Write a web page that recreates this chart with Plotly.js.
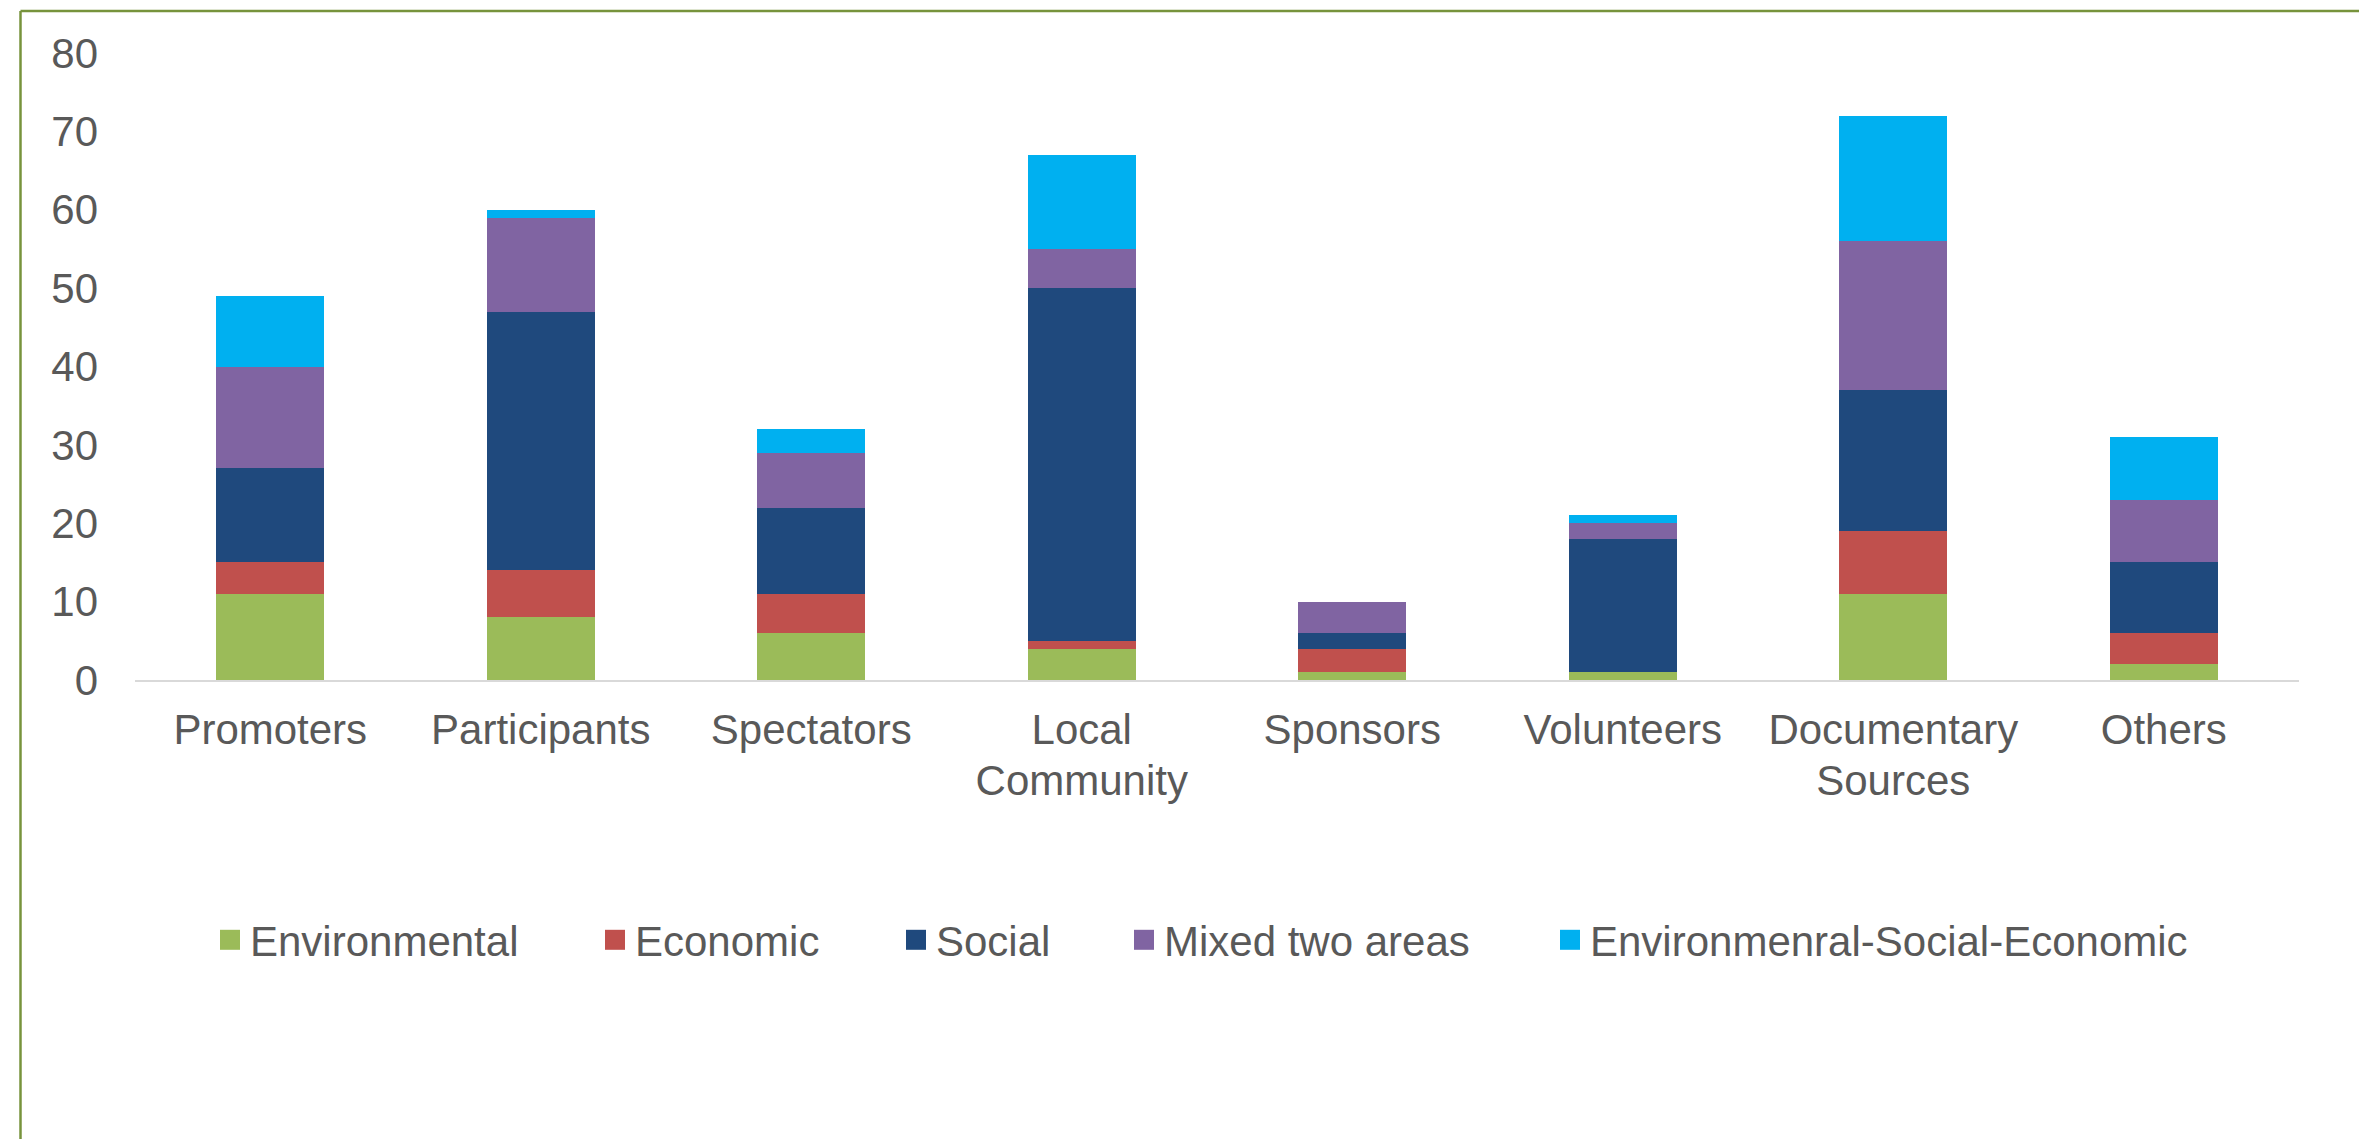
<!DOCTYPE html>
<html>
<head>
<meta charset="utf-8">
<script src="https://cdn.plot.ly/plotly-3.0.1.min.js"></script>
<style>
  html, body { margin: 0; padding: 0; background: #ffffff; }
  #chart { width: 2359px; height: 1139px; }
</style>
</head>
<body>
<div id="chart"></div>
<script>
const categories = ["Promoters", "Participants", "Spectators", "Local<br>Community", "Sponsors", "Volunteers", "Documentary<br>Sources", "Others"];
const seriesNames = ["Environmental", "Economic", "Social", "Mixed two areas", "Environmenral-Social-Economic"];
const environmental = [11, 8, 6, 4, 1, 1, 11, 2];
const economic      = [4, 6, 5, 1, 3, 0, 8, 4];
const social        = [12, 33, 11, 45, 2, 17, 18, 9];
const mixedTwo      = [13, 12, 7, 5, 4, 2, 19, 8];
const envSocEco     = [9, 1, 3, 12, 0, 1, 16, 8];
const yTicks = [0, 10, 20, 30, 40, 50, 60, 70, 80];

const colors = ["#9bbb59", "#c0504d", "#1f497d", "#8064a2", "#00b0f0"];
const values = [environmental, economic, social, mixedTwo, envSocEco];
const legendIds = ["legend", "legend2", "legend3", "legend4", "legend5"];

const W = 2359, H = 1139;
const M = {l: 135, r: 60, t: 53, b: 459};
const pw = W - M.l - M.r, ph = H - M.t - M.b;
const px = x => (x - M.l) / pw;
const py = y => (H - M.b - y) / ph;

const traces = values.map((v, i) => ({
  type: "bar",
  name: seriesNames[i],
  x: categories,
  y: v,
  marker: {color: colors[i], line: {width: 0}},
  legend: legendIds[i],
  hoverinfo: "skip"
}));

const font = {family: "Liberation Sans, Arial, sans-serif", size: 42, color: "#595959"};
const legendTextStarts = [250, 635, 936, 1164, 1590];
const legendBase = {
  orientation: "h", yanchor: "middle", xanchor: "left", y: py(940),
  font: font, bgcolor: "rgba(0,0,0,0)", borderwidth: 0
};

const layout = {
  width: W, height: H, margin: M,
  paper_bgcolor: "#ffffff", plot_bgcolor: "#ffffff",
  font: font, barmode: "stack", bargap: 0.6, showlegend: true,
  xaxis: {showgrid: false, zeroline: false, showline: true, linecolor: "#d9d9d9", linewidth: 2,
    ticks: "", tickfont: font, ticklabelstandoff: 12, fixedrange: true},
  yaxis: {range: [0, 80], tickvals: yTicks, ticktext: yTicks.map(String),
    showgrid: false, zeroline: false, showline: false, ticks: "", tickfont: font,
    ticklabelstandoff: 36, fixedrange: true},
  shapes: [
    {type: "line", xref: "paper", yref: "paper", x0: px(20.5), x1: px(2400), y0: py(11), y1: py(11), line: {color: "#77933c", width: 2.5}},
    {type: "line", xref: "paper", yref: "paper", x0: px(20.5), x1: px(20.5), y0: py(11), y1: py(1200), line: {color: "#77933c", width: 2.5}}
  ]
};
legendIds.forEach((id, i) => { layout[id] = Object.assign({}, legendBase, {x: px(legendTextStarts[i] - 40)}); });

function touchUp() {
  document.querySelectorAll(".legendpoints path").forEach(p => {
    p.setAttribute("d", "M10,10H-10V-10H10Z");
  });
  document.querySelectorAll(".xtick text").forEach(t => {
    t.querySelectorAll("tspan.line").forEach((s, k) => { if (k > 0) s.setAttribute("dy", "1.21em"); });
  });
}

const gd = document.getElementById("chart");
Plotly.newPlot(gd, traces, layout, {staticPlot: true, displayModeBar: false}).then(() => {
  touchUp();
  gd.on && gd.on("plotly_afterplot", touchUp);
});
</script>
</body>
</html>
